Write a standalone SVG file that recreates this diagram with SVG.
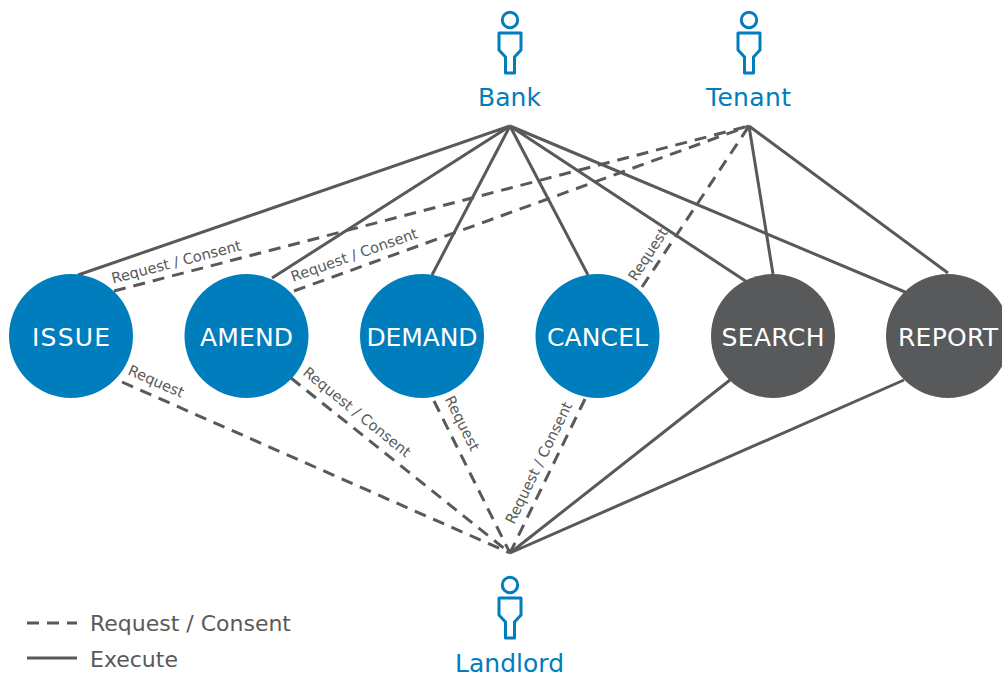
<svg xmlns="http://www.w3.org/2000/svg" width="1002" height="673" viewBox="0 0 1002 673">
<style>
text{font-family:"DejaVu Sans",Verdana,sans-serif}
.ln{fill:none;stroke:#595959;stroke-width:3}
.d{stroke-dasharray:12 8}
.blue{fill:#007dbc}.dark{fill:#58595b}
.nt{fill:#fff;font-size:25px;text-anchor:middle}
.at{fill:#007dbc;font-size:25px;text-anchor:middle}
.lb{fill:#595959;font-size:14.600px}
.lg{fill:#595959;font-size:22px}
.ic{fill:none;stroke:#007dbc;stroke-width:3}
</style>
<defs><g id="person"><circle cx="0" cy="20" r="7.700" class="ic"/><path class="ic" d="M-11 33H11V50L4.500 57V73H-4.500V57L-11 50Z" stroke-linejoin="round"/></g></defs>
<rect width="1002" height="673" fill="#fff"/>
<g id="connectors">
<path class="ln" d="M78 275L510 126M272 278L510 126M432 275L510 126M588 275L510 126M747 282L510 126M905 292L510 126M773 274L749 126M948 273L749 126M730 380L510 553M904 380L510 553"/>
<path class="ln d" d="M114 291L749 126M294 291L749 126M642 287L749 126M122 382L510 553M291 378L510 553M434 401L510 553M585 399L510 553"/>
</g>
<g id="labels">
<text class="lb" transform="translate(113 283.500) rotate(-14.500)">Request / Consent</text>
<text class="lb" transform="translate(293 282) rotate(-19.500)">Request / Consent</text>
<text class="lb" transform="translate(636 282) rotate(-57)">Request</text>
<text class="lb" transform="translate(127 374) rotate(23.800)">Request</text>
<text class="lb" transform="translate(302 374) rotate(39)">Request / Consent</text>
<text class="lb" transform="translate(444.500 399) rotate(63.500)">Request</text>
<text class="lb" transform="translate(514 525) rotate(-64)">Request / Consent</text>
</g>
<g id="n-issue"><circle class="blue" cx="71" cy="336" r="62"/><text class="nt" x="71" y="346" textLength="78">ISSUE</text></g>
<g id="n-amend"><circle class="blue" cx="246.500" cy="336" r="62"/><text class="nt" x="246.500" y="346" textLength="93">AMEND</text></g>
<g id="n-demand"><circle class="blue" cx="422" cy="336" r="62"/><text class="nt" x="422" y="346" textLength="111">DEMAND</text></g>
<g id="n-cancel"><circle class="blue" cx="597.500" cy="336" r="62"/><text class="nt" x="597.500" y="346" textLength="101">CANCEL</text></g>
<g id="n-search"><circle class="dark" cx="773" cy="336" r="62"/><text class="nt" x="773" y="346" textLength="103">SEARCH</text></g>
<g id="n-report"><circle class="dark" cx="948" cy="336" r="62"/><text class="nt" x="948" y="346" textLength="100">REPORT</text></g>
<g id="a-bank"><use href="#person" x="510" y="0"/><text class="at" x="509.500" y="106">Bank</text></g>
<g id="a-tenant"><use href="#person" x="749" y="0"/><text class="at" x="748.500" y="106" textLength="85">Tenant</text></g>
<g id="a-landlord"><use href="#person" x="510" y="565"/><text class="at" x="509.500" y="671.500" textLength="109">Landlord</text></g>
<g id="legend">
<path class="ln d" d="M27 623H77"/><path class="ln" d="M27 658H77"/>
<text class="lg" x="90" y="631" textLength="201">Request / Consent</text>
<text class="lg" x="90" y="667">Execute</text>
</g>
</svg>
